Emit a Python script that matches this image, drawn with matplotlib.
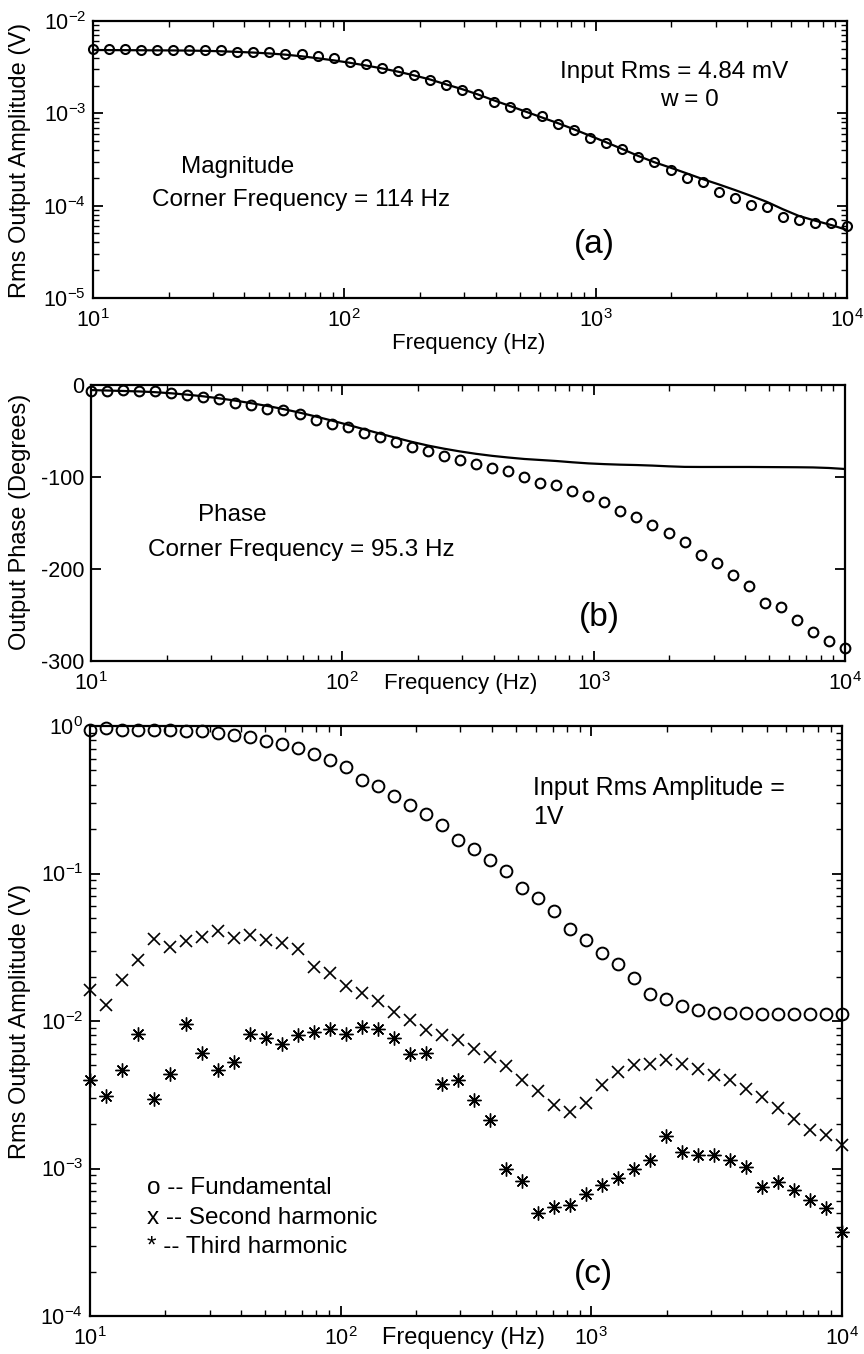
import numpy as np
import matplotlib
matplotlib.use("Agg")
import matplotlib.pyplot as plt

plt.rcParams['font.family'] = ['Liberation Sans', 'DejaVu Sans']
plt.rcParams['mathtext.fontset'] = 'custom'
plt.rcParams['mathtext.rm'] = 'Liberation Sans'
plt.rcParams['mathtext.it'] = 'Liberation Sans:italic'
plt.rcParams['mathtext.bf'] = 'Liberation Sans:bold'
plt.rcParams['axes.unicode_minus'] = False

# frequencies (Hz), same sweep for every panel
freq = [10.0, 11.58, 13.42, 15.54, 18.0, 20.85, 24.15, 27.98, 32.4, 37.54,
        43.48, 50.36, 58.33, 67.57, 78.26, 90.65, 105.0, 121.6, 140.9, 163.2,
        189.0, 218.9, 253.6, 293.8, 340.3, 394.2, 456.6, 528.9, 612.6, 709.6,
        822.0, 952.1, 1103, 1277, 1480, 1714, 1986, 2300, 2665, 3087,
        3575, 4141, 4797, 5556, 6436, 7455, 8636, 10000]

# (a) magnitude, measured (circles) and fit (line), V
mag_meas = [5.0e-3, 4.95e-3, 4.95e-3, 4.82e-3, 4.82e-3, 4.82e-3, 4.82e-3, 4.82e-3, 4.82e-3, 4.62e-3,
            4.62e-3, 4.62e-3, 4.44e-3, 4.44e-3, 4.18e-3, 3.98e-3, 3.6e-3, 3.4e-3, 3.13e-3, 2.88e-3,
            2.59e-3, 2.32e-3, 2.03e-3, 1.81e-3, 1.6e-3, 1.33e-3, 1.175e-3, 1.01e-3, 9.33e-4, 7.64e-4,
            6.58e-4, 5.35e-4, 4.73e-4, 4.1e-4, 3.39e-4, 2.95e-4, 2.43e-4, 1.98e-4, 1.82e-4, 1.42e-4,
            1.2e-4, 1.02e-4, 9.75e-5, 7.6e-5, 7.0e-5, 6.55e-5, 6.55e-5, 6.04e-5]
mag_fit = [4.85e-3, 4.84e-3, 4.83e-3, 4.82e-3, 4.81e-3, 4.8e-3, 4.78e-3, 4.75e-3, 4.7e-3, 4.63e-3,
           4.55e-3, 4.45e-3, 4.32e-3, 4.15e-3, 3.95e-3, 3.75e-3, 3.53e-3, 3.3e-3, 3.07e-3, 2.83e-3,
           2.58e-3, 2.33e-3, 2.06e-3, 1.83e-3, 1.6e-3, 1.38e-3, 1.2e-3, 1.04e-3, 9.0e-4, 7.8e-4,
           6.7e-4, 5.7e-4, 4.85e-4, 4.1e-4, 3.45e-4, 2.95e-4, 2.58e-4, 2.24e-4, 1.94e-4, 1.7e-4,
           1.48e-4, 1.28e-4, 1.1e-4, 9.15e-5, 7.74e-5, 6.89e-5, 6.18e-5, 5.46e-5]

# (b) phase, degrees
phase_meas = [-7.0, -7.0, -5.1, -7.0, -7.0, -8.7, -11.3, -13.0, -15.2, -19.6,
              -21.4, -25.8, -27.6, -31.5, -37.7, -42.1, -46.1, -52.2, -56.5, -62.4,
              -67.4, -72.2, -76.8, -82.0, -85.9, -90.2, -93.9, -100.0, -106.5, -108.4,
              -115.7, -121.1, -127.2, -137.4, -143.5, -151.8, -160.9, -170.7, -185.2, -193.5,
              -206.2, -218.2, -237.0, -241.3, -255.9, -268.5, -277.9, -285.9]
phase_fit = [-5.5, -6.0, -6.5, -7.0, -7.8, -9.0, -10.5, -12.3, -14.5, -17.0,
             -19.8, -22.8, -26.2, -30.0, -34.2, -38.6, -43.2, -48.0, -52.8, -57.4,
             -61.8, -65.8, -69.2, -72.2, -74.8, -77.0, -78.8, -80.4, -81.5, -82.6,
             -84.0, -85.2, -86.0, -86.6, -87.0, -87.6, -88.4, -89.0, -89.1, -89.1,
             -89.1, -89.1, -89.2, -89.3, -89.4, -89.6, -90.2, -91.3]

# (c) harmonics for 1 V input, V
fundamental = [0.935, 0.975, 0.946, 0.935, 0.946, 0.946, 0.92, 0.92, 0.89, 0.868,
               0.843, 0.791, 0.751, 0.709, 0.65, 0.592, 0.527, 0.428, 0.392, 0.336,
               0.29, 0.252, 0.212, 0.168, 0.147, 0.124, 0.104, 0.0798, 0.0687, 0.0557,
               0.0423, 0.0356, 0.0291, 0.0245, 0.0197, 0.0153, 0.014, 0.0126, 0.0118, 0.0114,
               0.0114, 0.0114, 0.0112, 0.0112, 0.0112, 0.0112, 0.0112, 0.0112]
second = [0.0163, 0.01277, 0.0189, 0.0258, 0.0362, 0.0318, 0.0349, 0.0371, 0.0408, 0.0366,
          0.0381, 0.0356, 0.0338, 0.031, 0.0232, 0.0211, 0.0172, 0.0154, 0.0136, 0.0115,
          0.0102, 0.00869, 0.00805, 0.0074, 0.0065, 0.0057, 0.00493, 0.00396, 0.00334, 0.00268,
          0.00242, 0.00278, 0.00366, 0.00451, 0.00501, 0.00514, 0.00542, 0.00514, 0.00475, 0.00433,
          0.00396, 0.00348, 0.00303, 0.00259, 0.00218, 0.00182, 0.00168, 0.00144]
third = [0.00401, 0.00309, 0.00469, 0.00822, 0.00298, 0.0044, 0.0095, 0.00607, 0.00463, 0.00527,
         0.00822, 0.00771, 0.00703, 0.008, 0.00842, 0.00888, 0.00822, 0.0091, 0.00888, 0.00771,
         0.00594, 0.00607, 0.00372, 0.00396, 0.0029, 0.00212, 0.000998, 0.000818, 0.000499, 0.000548,
         0.000562, 0.000676, 0.000769, 0.000863, 0.000998, 0.00115, 0.00165, 0.00129, 0.00123, 0.00123,
         0.00114, 0.00102, 0.00075, 0.00081, 0.00072, 0.000615, 0.00054, 0.000371]

W, H = 864, 1354
fig = plt.figure(figsize=(W / 100, H / 100), dpi=100)


def box(left, top, right, bottom):
    return [left / W, 1 - bottom / H, (right - left) / W, (bottom - top) / H]


def ftext(x, y, s, **kw):
    kw.setdefault('va', 'center')
    fig.text(x / W, 1 - y / H, s, **kw)


def style(ax):
    for sp in ax.spines.values():
        sp.set_linewidth(1.6)
    ax.tick_params(which='both', direction='in', top=True, right=True, labelsize=15.5)
    ax.tick_params(which='major', length=7, width=1.3)
    ax.tick_params(which='minor', length=4, width=1.0)
    ax.tick_params(axis='x', pad=8)
    ax.tick_params(axis='y', pad=5)


# (a)
ax_a = fig.add_axes(box(93, 21, 847, 298))
ax_a.loglog(freq, mag_fit, color='black', lw=1.6)
ax_a.loglog(freq, mag_meas, 'o', mfc='none', mec='black', mew=1.5, ms=6.5, clip_on=False)
ax_a.set_xlim(10, 1e4)
ax_a.set_ylim(1e-5, 1e-2)
style(ax_a)
ftext(560, 72, 'Input Rms = 4.84 mV', fontsize=17.5)
ftext(689, 100, 'w = 0', fontsize=17.5, ha='center')
ftext(181, 167, 'Magnitude', fontsize=17.5)
ftext(152, 200, 'Corner Frequency = 114 Hz', fontsize=17.5)
ftext(594, 245, '(a)', fontsize=24, ha='center')
ftext(469, 343, 'Frequency (Hz)', fontsize=16, ha='center')
ftext(20, 160, 'Rms Output Amplitude (V)', fontsize=17, rotation=90, ha='center')

# (b)
ax_b = fig.add_axes(box(91, 385, 845, 661))
ax_b.semilogx(freq, phase_fit, color='black', lw=1.6)
ax_b.semilogx(freq, phase_meas, 'o', mfc='none', mec='black', mew=1.5, ms=7, clip_on=False)
ax_b.set_xlim(10, 1e4)
ax_b.set_ylim(-300, 0)
ax_b.set_yticks([0, -100, -200, -300])
style(ax_b)
ax_b.tick_params(axis='y', which='minor', left=False, right=False)
ftext(198, 515, 'Phase', fontsize=17.5)
ftext(148, 550, 'Corner Frequency = 95.3 Hz', fontsize=17.5)
ftext(599, 618, '(b)', fontsize=24, ha='center')
ftext(461, 684, 'Frequency (Hz)', fontsize=16, ha='center')
ftext(20, 522, 'Output Phase (Degrees)', fontsize=17, rotation=90, ha='center')

# (c)
ax_c = fig.add_axes(box(90, 726, 842, 1316))
ax_c.loglog(freq, fundamental, 'o', mfc='none', mec='black', mew=1.4, ms=8.5, clip_on=False)
ax_c.loglog(freq, second, 'x', color='black', mew=1.2, ms=9, clip_on=False)
ax_c.loglog(freq, third, marker=(8, 2, 0), ls='none', color='black', mew=1.0, ms=10, clip_on=False)
ax_c.set_xlim(10, 1e4)
ax_c.set_ylim(1e-4, 1)
style(ax_c)
ftext(533, 788, 'Input Rms Amplitude =', fontsize=18)
ftext(533, 817, '1V', fontsize=18)
ftext(147, 1188, 'o -- Fundamental', fontsize=17.5)
ftext(147, 1218, 'x -- Second harmonic', fontsize=17.5)
ftext(147, 1247, '* -- Third harmonic', fontsize=17.5)
ftext(593, 1275, '(c)', fontsize=24, ha='center')
ftext(463, 1338, 'Frequency (Hz)', fontsize=17, ha='center')
ftext(20, 1021, 'Rms Output Amplitude (V)', fontsize=17, rotation=90, ha='center')

fig.savefig('out.png', dpi=100)
